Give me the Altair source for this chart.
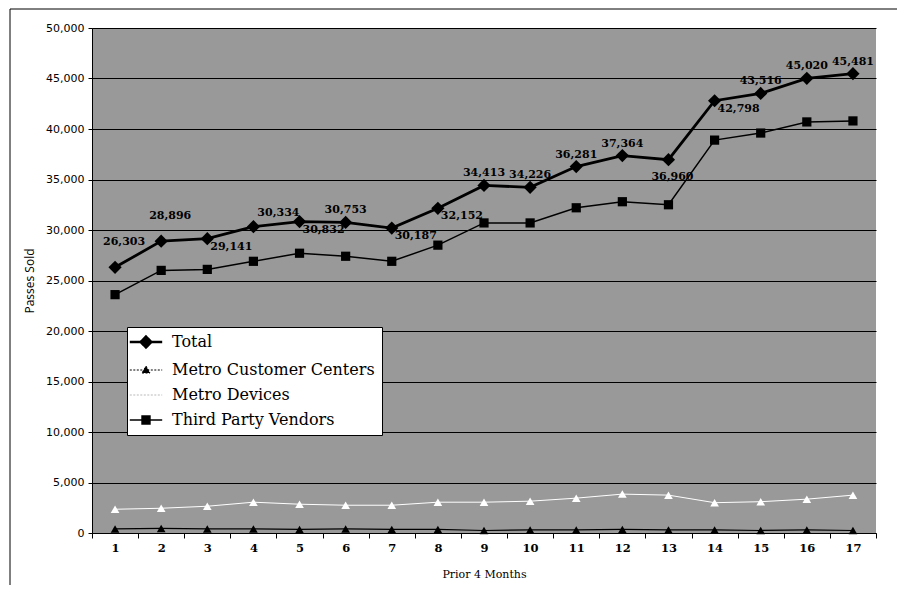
import altair as alt
import pandas as pd

# ---- data ----
months = list(range(1, 18))
series_names = ["Total", "Metro Customer Centers", "Metro Devices", "Third Party Vendors"]
total = [26303, 28896, 29141, 30334, 30832, 30753, 30187, 32152, 34413,
         34226, 36281, 37364, 36960, 42798, 43516, 45020, 45481]
customer_centers = [400, 450, 400, 400, 350, 400, 350, 350, 250,
                    300, 300, 350, 300, 300, 250, 300, 250]
devices = [2350, 2450, 2650, 3050, 2850, 2750, 2750, 3050, 3050,
           3150, 3450, 3850, 3750, 3000, 3100, 3350, 3750]
third_party = [23600, 26000, 26100, 26900, 27700, 27400, 26900, 28500, 30700,
               30700, 32200, 32800, 32500, 38900, 39600, 40700, 40800]
y_ticks = list(range(0, 50001, 5000))

rows = []
for name, vals in zip(series_names, [total, customer_centers, devices, third_party]):
    for m, v in zip(months, vals):
        rows.append({"Month": m, "Series": name, "Passes": v})
df = pd.DataFrame(rows)
tot_df = pd.DataFrame({"Month": months, "Passes": total})

x_enc = alt.X(
    "Month:O",
    bandPosition=0.5,
    scale=alt.Scale(type="band", paddingInner=0, paddingOuter=0),
    axis=alt.Axis(
        title="Prior 4 Months", labelAngle=0, tickBand="extent", tickSize=5,
        tickColor="black", domainColor="black", labelColor="black",
        labelFont="DejaVu Serif", labelFontWeight="bold", labelFontSize=11.5,
        labelPadding=4, titleFont="DejaVu Serif", titleFontSize=11,
        titleFontWeight="normal", titleColor="black", titlePadding=15, grid=False,
    ),
)
y_enc = alt.Y(
    "Passes:Q",
    scale=alt.Scale(domain=[0, 50000], nice=False),
    axis=alt.Axis(
        title="Passes Sold", values=y_ticks, labelExpr="format(datum.value, ',')",
        tickSize=4, tickColor="black", domainColor="black", labelColor="black",
        labelFont="DejaVu Sans", labelFontSize=11, labelPadding=4,
        titleFont="Open Sans", titleFontSize=12, titleFontWeight="normal",
        titleColor="black", titlePadding=9,
        grid=True, gridColor="black", gridWidth=1, gridOpacity=1,
    ),
)

dom = series_names
colors = ["black", "black", "white", "black"]
# the non-legend scales list the series in reverse so their (hidden) legends stay separate
rdom = dom[::-1]
rcolors = colors[::-1]

lines = alt.Chart(df).mark_line().encode(
    x=x_enc, y=y_enc,
    stroke=alt.Stroke("Series:N", scale=alt.Scale(type="ordinal", domain=rdom, range=rcolors), legend=None),
    strokeWidth=alt.StrokeWidth("Series:N", scale=alt.Scale(type="ordinal", domain=rdom, range=[1.5, 1, 1.2, 2.8]), legend=None),
    detail="Series:N",
)

sym_expr = (
    "datum.value == 'Total' ? 'M-1.35,0L1.35,0M0,-0.45L0.45,0L0,0.45L-0.45,0Z' : "
    "datum.value == 'Metro Customer Centers' ? 'M-1.35,0L1.35,0M-0.33,0.25L0.33,0.25L0,-0.33Z' : "
    "datum.value == 'Metro Devices' ? 'M-1.35,0L1.35,0' : "
    "'M-1.35,0L1.35,0M-0.33,-0.33L0.33,-0.33L0.33,0.33L-0.33,0.33Z'"
)
stroke_expr = "datum.value == 'Metro Devices' ? '#b8b8b8' : 'black'"
width_expr = "datum.value == 'Total' ? 2.5 : (datum.value == 'Third Party Vendors' ? 1.5 : 1)"
dash_expr = "(datum.value == 'Metro Customer Centers' || datum.value == 'Metro Devices') ? [2, 1.5] : [1, 0]"

points = alt.Chart(df).mark_point(filled=True, opacity=1, strokeWidth=0).encode(
    x=x_enc, y=y_enc,
    shape=alt.Shape("Series:N", scale=alt.Scale(type="ordinal", domain=rdom, range=["square", "triangle-up", "triangle-up", "diamond"]), legend=None),
    size=alt.Size("Series:N", scale=alt.Scale(type="ordinal", domain=rdom, range=[85, 75, 75, 175]), legend=None),
    fill=alt.Fill(
        "Series:N",
        scale=alt.Scale(domain=dom, range=colors),
        legend=alt.Legend(
            title=None, orient="none", legendX=35, legendY=299,
            fillColor="white", strokeColor="black", padding=7,
            symbolSize=576, symbolType=alt.ExprRef(expr=sym_expr),
            symbolStrokeColor=alt.ExprRef(expr=stroke_expr),
            symbolStrokeWidth=alt.ExprRef(expr=width_expr),
            symbolDash=alt.ExprRef(expr=dash_expr),
            symbolOpacity=1, symbolOffset=4, labelOffset=18, rowPadding=9,
            labelFont="DejaVu Serif", labelFontSize=16, labelColor="black",
            labelLimit=400,
        ),
    ),
)

def label_layer(which, dx, dy):
    return alt.Chart(tot_df).mark_text(
        dx=dx, dy=dy, font="DejaVu Serif", fontWeight="bold", fontSize=11,
        color="black", baseline="middle", align="center",
    ).encode(
        x=x_enc, y=y_enc, text=alt.Text("Passes:Q", format=","),
    ).transform_filter(alt.FieldOneOfPredicate(field="Month", oneOf=which))

labels = [
    label_layer([1, 2], 9, -25),
    label_layer([6, 9, 10, 11, 12, 15, 16, 17], 0, -12),
    label_layer([4], 25, -14),
    label_layer([3, 5, 7, 8, 14], 24, 8),
    label_layer([13], 4, 17),
]

frame = alt.Chart(pd.DataFrame({"a": [0]})).mark_rect(
    fill="transparent", stroke="black", strokeWidth=1
).encode(x=alt.value(-82), x2=alt.value(812), y=alt.value(-19), y2=alt.value(570))

chart = alt.layer(lines, points, *labels, frame).properties(
    width=784, height=505,
    autosize=alt.AutoSizeParams(type="none"),
    padding={"left": 84, "top": 20, "right": 21, "bottom": 52},
    background="white",
).configure_view(fill="#999999", stroke=None).configure_legend(strokeWidth=1, cornerRadius=0)

chart.save("out.html", embed_options={"renderer": "svg", "actions": False})
